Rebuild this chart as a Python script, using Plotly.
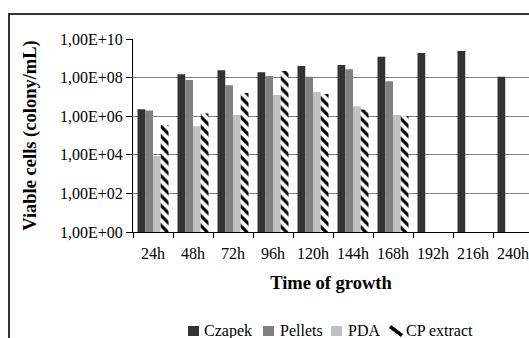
import plotly.graph_objects as go

categories = ["24h", "48h", "72h", "96h", "120h", "144h", "168h", "192h", "216h", "240h"]
czapek = [2.3e6, 1.5e8, 2.4e8, 1.9e8, 4.0e8, 4.5e8, 1.2e9, 1.9e9, 2.4e9, 1.1e8]
pellets = [2.0e6, 7.5e7, 4.0e7, 1.2e8, 1.1e8, 2.7e8, 6.5e7, None, None, None]
pda = [8.7e3, 3.0e5, 1.15e6, 1.25e7, 1.8e7, 3.3e6, 1.15e6, None, None, None]
cp_extract = [3.5e5, 1.4e6, 1.6e7, 2.2e8, 1.4e7, 2.2e6, 1.0e6, None, None, None]
y_tickvals = [1e0, 1e2, 1e4, 1e6, 1e8, 1e10]
y_ticktext = ["1,00E+00", "1,00E+02", "1,00E+04", "1,00E+06", "1,00E+08", "1,00E+10"]
series_names = ["Czapek", "Pellets", "PDA", "CP extract"]
series_colors = ["#333333", "#808080", "#c0c0c0", "white"]

FONT = "Liberation Serif"

fig = go.Figure()
for name, vals, col in zip(series_names, [czapek, pellets, pda, cp_extract], series_colors):
    marker = dict(color=col, line=dict(width=0))
    if name == "CP extract":
        marker["pattern"] = dict(shape="\\", fgcolor="black", bgcolor="white",
                                 size=7, solidity=0.45, fillmode="replace")
    fig.add_trace(go.Bar(name=name, x=categories, y=vals, marker=marker, showlegend=False))

W, H = 529, 338
L, T, B = 133, 39, 106
plot_w = W - L
plot_h = H - T - B

def px_x(p):
    return (p - L) / plot_w

def px_y(p):
    return (H - B - p) / plot_h

shapes = [dict(type="rect", xref="paper", yref="paper",
               x0=px_x(9), x1=px_x(545), y0=px_y(350), y1=px_y(14),
               line=dict(color="#333333", width=2), fillcolor="rgba(0,0,0,0)", layer="below")]
annotations = []

# legend (drawn as shapes + text)
leg_sq_x = [188, 263, 331]
leg_text_x = [202, 278, 346, 404]
for i in range(3):
    shapes.append(dict(type="rect", xref="paper", yref="paper",
                       x0=px_x(leg_sq_x[i]), x1=px_x(leg_sq_x[i] + 11),
                       y0=px_y(336), y1=px_y(326),
                       line=dict(width=0), fillcolor=series_colors[i]))
shapes.append(dict(type="line", xref="paper", yref="paper",
                   x0=px_x(390), x1=px_x(402), y0=px_y(326.5), y1=px_y(335.5),
                   line=dict(color="black", width=3.5)))
for i, name in enumerate(series_names):
    annotations.append(dict(text=name, xref="paper", yref="paper",
                            x=px_x(leg_text_x[i]), y=px_y(330.5), xanchor="left", yanchor="middle",
                            showarrow=False, font=dict(family=FONT, size=16, color="black")))

fig.update_layout(
    width=W, height=H,
    margin=dict(l=L, r=0, t=T, b=B, autoexpand=False),
    paper_bgcolor="white", plot_bgcolor="white",
    barmode="group", bargap=0.225, bargroupgap=0,
    font=dict(family=FONT, size=16, color="black"),
    showlegend=False,
    xaxis=dict(
        type="category", range=[-0.5, 9.4], automargin=False,
        showline=True, linecolor="black", linewidth=1,
        ticks="outside", tickson="boundaries", ticklen=5, tickcolor="black",
        showgrid=False, tickangle=0, ticklabelstandoff=7,
        tickfont=dict(family=FONT, size=16),
        title=dict(text="<b>Time of growth</b>", font=dict(family=FONT, size=18.5), standoff=14),
    ),
    yaxis=dict(
        type="log", range=[0, 10], automargin=False,
        tickvals=y_tickvals, ticktext=y_ticktext,
        showline=True, linecolor="black", linewidth=1,
        ticks="outside", ticklen=6, tickcolor="black",
        showgrid=True, gridcolor="#808080", gridwidth=1,
        zeroline=False,
        tickfont=dict(family=FONT, size=16),
        title=dict(text="<b>Viable cells (colony/mL)</b>", font=dict(family=FONT, size=18.5), standoff=18),
    ),
    shapes=shapes,
    annotations=annotations,
)

fig.write_html("out.html", config={"displayModeBar": False, "staticPlot": True},
               post_script="document.body.style.margin='0';document.body.style.overflow='hidden';")
